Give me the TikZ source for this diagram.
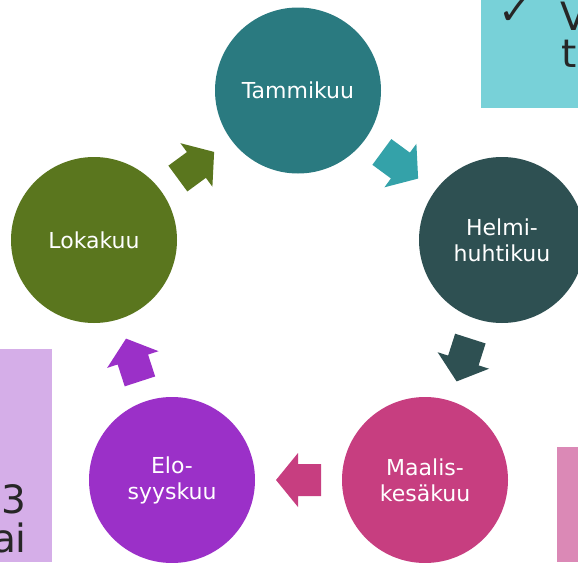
\documentclass[tikz,border=0pt]{standalone}
\usepackage{fontspec}
\setmainfont{DejaVu Sans}
\newfontfamily\checkfont{DejaVu Sans}
\definecolor{cTam}{HTML}{2A7A80}
\definecolor{cHel}{HTML}{2E5052}
\definecolor{cMaa}{HTML}{C73E80}
\definecolor{cElo}{HTML}{9B30C8}
\definecolor{cLok}{HTML}{5A761E}
\definecolor{cTealArr}{HTML}{34A2A9}
\definecolor{cCyanBox}{HTML}{78D1D8}
\definecolor{cLavBox}{HTML}{D5AEE8}
\definecolor{cPinkBox}{HTML}{DB89B6}
\definecolor{cDarkText}{HTML}{262626}
\newcommand{\blockarr}[3]{%
  \fill[#3, shift={(#1)}, rotate=#2]
    (-22.5,-16) -- (0.5,-16) -- (0.5,-27) -- (22.5,0) -- (0.5,27) -- (0.5,16) -- (-22.5,16) -- cycle;}
\tikzset{
  month/.style={circle, minimum size=166pt, inner sep=0pt, text=white,
    font=\fontsize{22pt}{26pt}\selectfont, align=center},
  boxtext/.style={inner sep=0pt, text=cDarkText, font=\fontsize{39pt}{39pt}\selectfont},
}
\begin{document}
\begin{tikzpicture}[x=1pt, y=-1pt]
\useasboundingbox (0,0) rectangle (578,562);
\clip (0,0) rectangle (578,562);
% side boxes
\fill[cCyanBox] (481,0) rectangle (578,108);
\fill[cLavBox] (0,349) rectangle (52,562);
\fill[cPinkBox] (557,447) rectangle (578,562);
\node[boxtext, font=\checkfont\fontsize{40pt}{40pt}\selectfont, anchor=center] (chk) at (515,11.5) {✓};
\node[boxtext, anchor=base west] (tr1) at (560,30) {V};
\node[boxtext, anchor=base west] (tr2) at (561,67) {ti};
\node[boxtext, anchor=base east] (l1) at (27,513) {23};
\node[boxtext, anchor=base east] (l2) at (27,552) {ai};
% circles
\node[month, fill=cTam] (tam) at (298,90.5) {Tammikuu};
\node[month, fill=cHel] (hel) at (502,240) {Helmi-\\huhtikuu};
\node[month, fill=cMaa] (maa) at (425,480) {Maalis-\\kesäkuu};
\node[month, fill=cElo] (elo) at (172,480) {Elo-\\syyskuu};
\node[month, fill=cLok] (lok) at (94,240) {Lokakuu};
% block arrows
\path (tam.center) -- (hel.center) coordinate[pos=0.5] (m1);
\path (hel.center) -- (maa.center) coordinate[pos=0.5] (m2);
\path (maa.center) -- (elo.center) coordinate[pos=0.5] (m3);
\path (elo.center) -- (lok.center) coordinate[pos=0.5] (m4);
\path (lok.center) -- (tam.center) coordinate[pos=0.5] (m5);
\blockarr{m1}{-36.3}{cTealArr}
\blockarr{m2}{-107.8}{cHel}
\blockarr{m3}{180}{cMaa}
\blockarr{m4}{108}{cElo}
\blockarr{m5}{36.3}{cLok}
\end{tikzpicture}
\end{document}
